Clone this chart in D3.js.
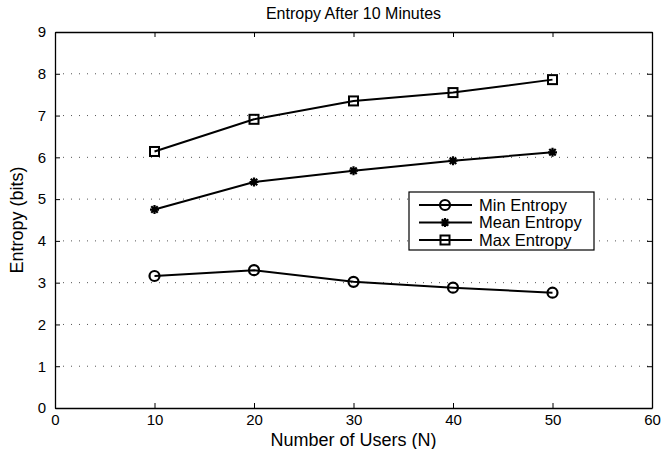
<!DOCTYPE html>
<html><head><meta charset="utf-8">
<script src="https://cdn.jsdelivr.net/npm/d3@7"></script>
<style>body{margin:0;background:#fff}svg{display:block;font-family:"Liberation Sans",Arial,sans-serif}</style>
</head><body>
<svg id="c" width="662" height="449"></svg>
<script>
const users = [10, 20, 30, 40, 50];
const minEntropy = [3.16, 3.30, 3.02, 2.88, 2.76];
const meanEntropy = [4.75, 5.41, 5.68, 5.92, 6.12];
const maxEntropy = [6.14, 6.91, 7.35, 7.55, 7.86];
const xTicks = [0, 10, 20, 30, 40, 50, 60];
const yTicks = [0, 1, 2, 3, 4, 5, 6, 7, 8, 9];
const seriesNames = ["Min Entropy", "Mean Entropy", "Max Entropy"];
const seriesMarkers = ["circle", "star", "square"];

const svg = d3.select("#c");
const L = 55, R = 652, T = 32, B = 408;
const x = d3.scaleLinear().domain([0, 60]).range([L, R]);
const y = d3.scaleLinear().domain([0, 9]).range([B, T]);

// grid
svg.append("g").selectAll("line").data(yTicks.filter(d => d > 0 && d < 9)).join("line")
  .attr("x1", L).attr("x2", R).attr("y1", d => y(d)).attr("y2", d => y(d))
  .attr("stroke", "#555").attr("stroke-width", 1).attr("stroke-dasharray", "1,7");

// axes
const ax = (axis, tx, ty) => {
  const g = svg.append("g").attr("transform", `translate(${tx},${ty})`).call(axis);
  g.select(".domain").attr("stroke", "#000").attr("stroke-width", 1.3);
  g.selectAll(".tick line").attr("stroke", "#000");
  g.selectAll(".tick text").attr("fill", "#000").style("font-size", "15px");
  return g;
};
ax(d3.axisBottom(x).tickValues(xTicks).tickSize(-5).tickPadding(6).tickSizeOuter(0), 0, B);
ax(d3.axisTop(x).tickValues(xTicks).tickSize(-5).tickFormat("").tickSizeOuter(0), 0, T);
ax(d3.axisLeft(y).tickValues(yTicks).tickSize(-5).tickPadding(9).tickSizeOuter(0), L, 0);
ax(d3.axisRight(y).tickValues(yTicks).tickSize(-5).tickFormat("").tickSizeOuter(0), R, 0);

// text
svg.append("text").attr("x", (L + R) / 2).attr("y", 19).attr("text-anchor", "middle")
  .style("font-size", "16px").text("Entropy After 10 Minutes");
svg.append("text").attr("x", (L + R) / 2).attr("y", 446).attr("text-anchor", "middle")
  .style("font-size", "18px").text("Number of Users (N)");
svg.append("text").attr("transform", `translate(23,${(T + B) / 2}) rotate(-90)`).attr("text-anchor", "middle")
  .style("font-size", "18px").text("Entropy (bits)");

function marker(g, type, cx, cy) {
  if (type === "circle") {
    g.append("circle").attr("cx", cx).attr("cy", cy).attr("r", 5)
      .attr("fill", "none").attr("stroke", "#000").attr("stroke-width", 2.2);
  } else if (type === "square") {
    g.append("rect").attr("x", cx - 4.5).attr("y", cy - 4.5).attr("width", 9).attr("height", 9)
      .attr("fill", "none").attr("stroke", "#000").attr("stroke-width", 2);
  } else {
    const s = 4.5, d = s * 0.72;
    const p = `M${cx - s},${cy}L${cx + s},${cy}M${cx},${cy - s}L${cx},${cy + s}M${cx - d},${cy - d}L${cx + d},${cy + d}M${cx - d},${cy + d}L${cx + d},${cy - d}`;
    g.append("path").attr("d", p).attr("stroke", "#000").attr("stroke-width", 2.2);
  }
}

const data = [minEntropy, meanEntropy, maxEntropy];
const line = d3.line().x((d, i) => x(users[i])).y(d => y(d));
data.forEach((vals, k) => {
  const g = svg.append("g");
  g.append("path").datum(vals).attr("d", line).attr("fill", "none")
    .attr("stroke", "#000").attr("stroke-width", 2);
  vals.forEach((v, i) => marker(g, seriesMarkers[k], x(users[i]), y(v)));
});

// legend
const lg = svg.append("g");
lg.append("rect").attr("x", 409).attr("y", 192).attr("width", 185).attr("height", 58)
  .attr("fill", "#fff").attr("stroke", "#000").attr("stroke-width", 1.2);
seriesNames.forEach((n, k) => {
  const yy = 205 + k * 17.5;
  lg.append("line").attr("x1", 419).attr("x2", 472).attr("y1", yy).attr("y2", yy)
    .attr("stroke", "#000").attr("stroke-width", 2);
  marker(lg, seriesMarkers[k], 445, yy);
  lg.append("text").attr("x", 479).attr("y", yy + 5.5).style("font-size", "16.5px").text(n);
});
</script>
</body></html>
